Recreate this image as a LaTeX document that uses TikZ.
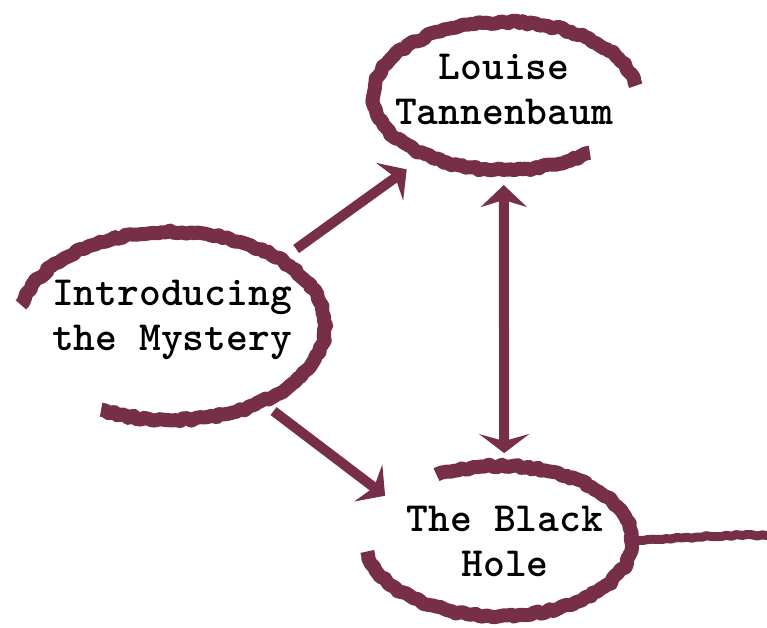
\documentclass[tikz,border=0pt]{standalone}
\usetikzlibrary{arrows.meta,shapes.geometric,decorations.pathmorphing,calc}
\definecolor{ink}{RGB}{119,46,72}
\tikzset{
  blob/.style={ellipse, draw=none, inner sep=0pt, outer sep=0pt},
  rim/.style={draw=ink, line width=14pt, line join=round, line cap=butt,
    decorate, decoration={random steps, segment length=4pt, amplitude=1.5pt}},
  caption/.style={font=\ttfamily\bfseries\fontsize{41.5}{45}\selectfont, align=center,
    anchor=base, inner sep=0pt, text=black},
  link/.style={draw=ink, line width=10pt, line join=miter},
  tail/.style={draw=ink, line width=9pt, line join=round, line cap=butt,
    decorate, decoration={random steps, segment length=5pt, amplitude=1pt}},
  head/.style={-{Stealth[length=21pt,width=46pt,inset=7pt]}},
  heads/.style={{Stealth[length=22pt,width=46pt,inset=7pt]}-{Stealth[length=19pt,width=50pt,inset=7pt]}},
}
\begin{document}
\begin{tikzpicture}[x=1pt,y=1pt]
\pgfmathsetseed{7}
\useasboundingbox (0,0) rectangle (767,627);

% ellipse nodes (borders follow the drawn rims)
\node[blob, minimum width=264pt, minimum height=148pt] (louise) at (505,531) {};
\node[blob, minimum width=308pt, minimum height=188pt] (intro) at (171,301) {};
\node[blob, minimum width=266pt, minimum height=150pt] (hole) at (499,86) {};

% hand-drawn open rims
\draw[rim] (louise.center) ++(8:132pt and 74pt)
  arc[start angle=8, end angle=310, x radius=132pt, y radius=74pt];
\draw[rim] (intro.center) ++(-117:154pt and 94pt)
  arc[start angle=-117, end angle=167, x radius=154pt, y radius=94pt];
\draw[rim] (hole.center) ++(188:133pt and 75pt)
  arc[start angle=188, end angle=478, x radius=133pt, y radius=75pt];

% texts (anchor base = baseline of the last line)
\node[caption] (louiseText) at (504,502) {Louise\\Tannenbaum};
\node[caption] (introText) at (172,277) {Introducing\\the Mystery};
\node[caption] (holeText) at (505,51) {The Black\\Hole};

% connectors
\draw[link, head] ($(intro.31)!19pt!(louise.217)$) -- ($(louise.217)!24pt!(intro.31)$);
\draw[link, heads] ($(louise.269)!15pt!(hole.86)$) -- ($(hole.86)!13pt!(louise.269)$);
\draw[link, head] ($(intro.-40)!15pt!(hole.159)$) -- ($(hole.159)!5pt!(intro.-40)$);

\coordinate (offRight) at (772,91);
\draw[tail] (hole.0) .. controls (680,88) and (720,94) .. (offRight);
\end{tikzpicture}
\end{document}
